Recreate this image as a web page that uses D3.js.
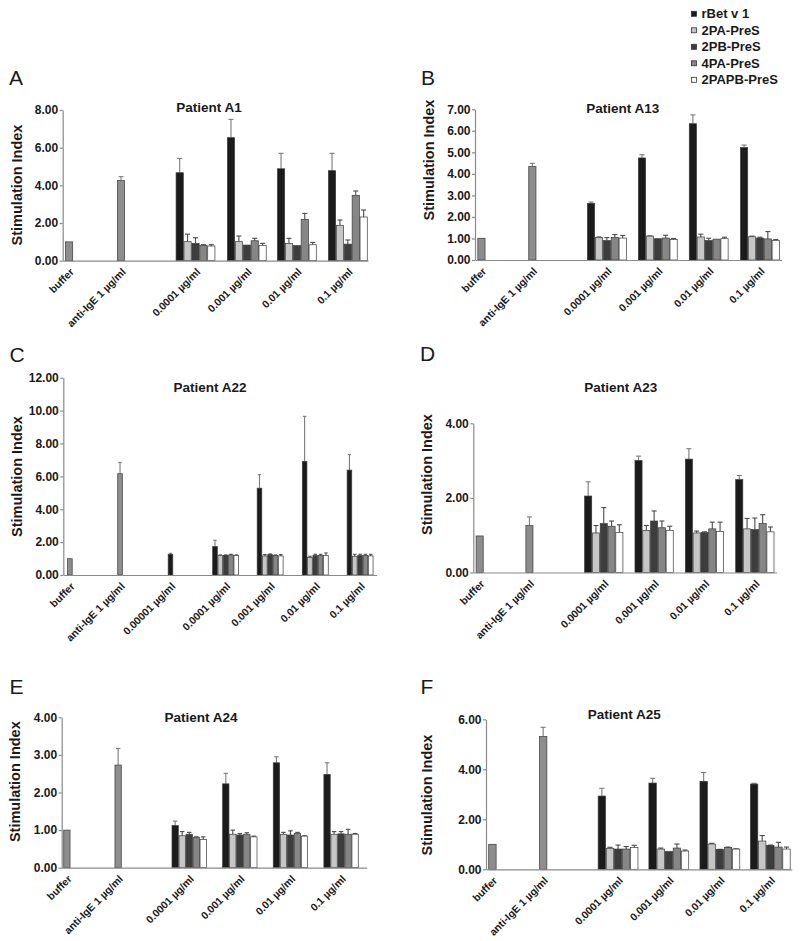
<!DOCTYPE html>
<html><head><meta charset="utf-8">
<script src="https://cdn.jsdelivr.net/npm/d3@7"></script>
<style>
body{margin:0;background:#fff}
svg{display:block}
text{font-family:"Liberation Sans",Arial,Helvetica,sans-serif}
</style>
</head><body>
<svg id="chart" width="800" height="941"></svg>
<script>
// ---------------- DATA ----------------
const series = ["rBet v 1", "2PA-PreS", "2PB-PreS", "4PA-PreS", "2PAPB-PreS"];
const controls = ["buffer", "anti-IgE 1 µg/ml"];
const concentrations = ["0.0001 µg/ml", "0.001 µg/ml", "0.01 µg/ml", "0.1 µg/ml"];
const concentrationsC = ["0.00001 µg/ml", "0.0001 µg/ml", "0.001 µg/ml", "0.01 µg/ml", "0.1 µg/ml"];

// Patient A1
const a1Controls = [1.00, 4.25];
const a1ControlsErr = [0, 0.21];
const a1Values = [
  [4.67, 1.01, 0.92, 0.81, 0.78],
  [6.53, 1.01, 0.83, 1.06, 0.81],
  [4.88, 0.92, 0.80, 2.19, 0.85],
  [4.78, 1.88, 0.88, 3.47, 2.32]
];
const a1Err = [
  [0.76, 0.40, 0.30, 0.04, 0.07],
  [0.97, 0.30, 0, 0.13, 0.11],
  [0.82, 0.27, 0, 0.32, 0.12],
  [0.92, 0.28, 0.22, 0.23, 0.37]
];

// Patient A13
const a13Controls = [1.01, 4.34];
const a13ControlsErr = [0, 0.15];
const a13Values = [
  [2.63, 1.05, 0.90, 1.05, 1.02],
  [4.74, 1.11, 0.99, 1.02, 0.95],
  [6.33, 1.07, 0.90, 0.97, 0.99],
  [5.22, 1.08, 1.02, 0.98, 0.91]
];
const a13Err = [
  [0.06, 0.02, 0.14, 0.13, 0.12],
  [0.15, 0.01, 0, 0.13, 0.05],
  [0.41, 0.13, 0.11, 0, 0.07],
  [0.12, 0.03, 0.04, 0.34, 0.04]
];

// Patient A22
const a22Controls = [0.99, 6.16];
const a22ControlsErr = [0, 0.69];
const a22Values = [
  [1.26, null, null, null, null],
  [1.73, 1.18, 1.20, 1.22, 1.18],
  [5.28, 1.16, 1.24, 1.18, 1.16],
  [6.91, 1.06, 1.18, 1.18, 1.18],
  [6.38, 1.14, 1.18, 1.18, 1.16]
];
const a22Err = [
  [0.06, null, null, null, null],
  [0.38, 0.04, 0.02, 0.04, 0.04],
  [0.82, 0.08, 0.04, 0.04, 0.08],
  [2.74, 0.08, 0.08, 0.08, 0.16],
  [0.94, 0.12, 0.08, 0.08, 0.10]
];

// Patient A23
const a23Controls = [0.98, 1.26];
const a23ControlsErr = [0, 0.23];
const a23Values = [
  [2.05, 1.06, 1.31, 1.24, 1.07],
  [3.00, 1.13, 1.38, 1.20, 1.13],
  [3.04, 1.06, 1.07, 1.17, 1.10],
  [2.49, 1.17, 1.15, 1.31, 1.09]
];
const a23Err = [
  [0.38, 0.20, 0.43, 0.14, 0.21],
  [0.12, 0.13, 0.27, 0.18, 0.11],
  [0.28, 0.05, 0.02, 0.18, 0.25],
  [0.11, 0.28, 0.31, 0.24, 0.13]
];

// Patient A24
const a24Controls = [1.00, 2.73];
const a24ControlsErr = [0, 0.44];
const a24Values = [
  [1.12, 0.85, 0.89, 0.81, 0.75],
  [2.23, 0.89, 0.87, 0.89, 0.82],
  [2.79, 0.89, 0.87, 0.91, 0.84],
  [2.48, 0.89, 0.90, 0.89, 0.89]
];
const a24Err = [
  [0.12, 0.11, 0.05, 0.01, 0.07],
  [0.28, 0.11, 0.04, 0.04, 0.02],
  [0.16, 0.05, 0.11, 0.03, 0.01],
  [0.31, 0.07, 0.06, 0.13, 0.02]
];

// Patient A25
const a25Controls = [1.00, 5.31];
const a25ControlsErr = [0, 0.37];
const a25Values = [
  [2.93, 0.84, 0.81, 0.81, 0.87],
  [3.45, 0.81, 0.71, 0.85, 0.73],
  [3.52, 1.01, 0.79, 0.87, 0.81],
  [3.41, 1.13, 0.95, 0.89, 0.81]
];
const a25Err = [
  [0.31, 0.04, 0.16, 0.10, 0.09],
  [0.19, 0.04, 0, 0.16, 0.04],
  [0.35, 0.03, 0.01, 0.02, 0.01],
  [0.03, 0.22, 0.02, 0.19, 0.08]
];

const ticksA = [0, 2, 4, 6, 8];
const ticksB = [0, 1, 2, 3, 4, 5, 6, 7];
const ticksC = [0, 2, 4, 6, 8, 10, 12];
const ticksD = [0, 2, 4];
const ticksE = [0, 1, 2, 3, 4];
const ticksF = [0, 2, 4, 6];

// ---------------- STYLE / LAYOUT ----------------
const seriesColors = ["#1b1b1b", "#c6c6c6", "#3d3d3d", "#868686", "#ffffff"];
const controlColor = "#8d8d8d";
const axisColor = "#8a8a8a";

const stdCenters = [0.021, 0.187, 0.432, 0.598, 0.764, 0.930];

const panels = [
  {letter: "A", title: "Patient A1", cats: concentrations, ctrl: a1Controls, ctrlErr: a1ControlsErr, vals: a1Values, errs: a1Err, ticks: ticksA,
   f: {x0: 62.7, x1: 368, y0: 260.7, y1: 110}, centers: [0.021, 0.191, 0.435, 0.603, 0.767, 0.934], bw: 0.0259,
   titleXY: [209, 111.7], letterXY: [9, 85], yTitleXY: [17, 185]},
  {letter: "B", title: "Patient A13", cats: concentrations, ctrl: a13Controls, ctrlErr: a13ControlsErr, vals: a13Values, errs: a13Err, ticks: ticksB,
   f: {x0: 475, x1: 781.7, y0: 260, y1: 109.3}, centers: [0.021, 0.187, 0.430, 0.596, 0.762, 0.929], bw: 0.0258,
   titleXY: [622.7, 113.3], letterXY: [421, 85], yTitleXY: [429, 160]},
  {letter: "C", title: "Patient A22", cats: concentrationsC, ctrl: a22Controls, ctrlErr: a22ControlsErr, vals: a22Values, errs: a22Err, ticks: ticksC,
   f: {x0: 63.3, x1: 376.7, y0: 575, y1: 377.7}, centers: [0.021, 0.181, 0.342, 0.518, 0.660, 0.804, 0.947], bw: 0.017,
   titleXY: [210, 391.7], letterXY: [9.5, 361.7], yTitleXY: [16.7, 476.5]},
  {letter: "D", title: "Patient A23", cats: concentrations, ctrl: a23Controls, ctrlErr: a23ControlsErr, vals: a23Values, errs: a23Err, ticks: ticksD,
   f: {x0: 473.3, x1: 776.7, y0: 572.5, y1: 423.3}, centers: [0.021, 0.185, 0.430, 0.596, 0.762, 0.928], bw: 0.0257,
   titleXY: [620.7, 392], letterXY: [420, 360.7], yTitleXY: [427, 474.5]},
  {letter: "E", title: "Patient A24", cats: concentrations, ctrl: a24Controls, ctrlErr: a24ControlsErr, vals: a24Values, errs: a24Err, ticks: ticksE,
   f: {x0: 61.7, x1: 366.7, y0: 867.7, y1: 717.3}, centers: [0.017, 0.185, 0.418, 0.584, 0.750, 0.916], bw: 0.023,
   titleXY: [201, 721.7], letterXY: [9.5, 694.3], yTitleXY: [15, 781.7]},
  {letter: "F", title: "Patient A25", cats: concentrations, ctrl: a25Controls, ctrlErr: a25ControlsErr, vals: a25Values, errs: a25Err, ticks: ticksF,
   f: {x0: 486, x1: 791.7, y0: 869.3, y1: 719.3}, centers: [0.021, 0.187, 0.432, 0.598, 0.765, 0.930], bw: 0.0265,
   titleXY: [624.3, 719.3], letterXY: [420.5, 694.3], yTitleXY: [427, 795]}
];

const svg = d3.select("#chart");
const fmt = d3.format(".2f");

panels.forEach(p => {
  const g = svg.append("g");
  const x = d3.scaleLinear().domain([0, 1]).range([p.f.x0, p.f.x1]);
  const y = d3.scaleLinear().domain([0, d3.max(p.ticks)]).range([p.f.y0, p.f.y1]);
  const bwPx = x(p.bw) - x(0);
  const labels = controls.concat(p.cats);

  // build bar records
  const bars = [];
  p.ctrl.forEach((v, i) => {
    const cx = x(p.centers[i]);
    bars.push({x: cx - bwPx / 2, w: bwPx, v: v, e: p.ctrlErr[i], fill: controlColor, dark: false});
  });
  p.vals.forEach((row, j) => {
    const cx = x(p.centers[j + controls.length]);
    const present = row.map((v, k) => v == null ? null : k).filter(k => k != null);
    if (present.length === 1) {
      const k = present[0];
      bars.push({x: cx - bwPx / 2, w: bwPx, v: row[k], e: p.errs[j][k], fill: seriesColors[k], dark: k === 0});
    } else {
      const band = d3.scaleBand().domain(series).range([cx - 2.5 * bwPx, cx + 2.5 * bwPx]);
      row.forEach((v, k) => {
        if (v == null) return;
        bars.push({x: band(series[k]), w: band.bandwidth(), v: v, e: p.errs[j][k], fill: seriesColors[k], dark: k === 0});
      });
    }
  });

  // error bars (behind caps drawn after bars)
  const eb = g.append("g");
  bars.filter(b => b.e && b.e > 0).forEach(b => {
    const cx = b.x + b.w / 2;
    const col = b.dark || b.fill === controlColor ? "#7a7a7a" : "#4a4a4a";
    eb.append("line").attr("x1", cx).attr("x2", cx).attr("y1", y(b.v)).attr("y2", y(b.v + b.e))
      .attr("stroke", col).attr("stroke-width", 1.1);
    eb.append("line").attr("x1", cx - b.w * 0.32).attr("x2", cx + b.w * 0.32)
      .attr("y1", y(b.v + b.e)).attr("y2", y(b.v + b.e))
      .attr("stroke", col).attr("stroke-width", 1.1);
  });

  g.append("g").selectAll("rect").data(bars).join("rect")
    .attr("x", d => d.x + 0.35).attr("width", d => d.w - 0.7)
    .attr("y", d => y(d.v)).attr("height", d => y(0) - y(d.v))
    .attr("fill", d => d.fill).attr("stroke", "#3a3a3a").attr("stroke-width", 0.7);

  // y axis
  const ya = g.append("g").attr("transform", `translate(${p.f.x0},0)`)
    .call(d3.axisLeft(y).tickValues(p.ticks).tickFormat(fmt).tickSize(3).tickSizeOuter(0).tickPadding(1.5));
  ya.select(".domain").attr("stroke", axisColor).attr("stroke-width", 1.2);
  ya.selectAll(".tick line").attr("stroke", axisColor).attr("stroke-width", 1.2);
  ya.selectAll(".tick text").attr("fill", "#1a1a1a").style("font-size", "12px").style("font-weight", "bold")
    .style("font-family", "'Liberation Sans', Arial, sans-serif");

  // x axis
  const xa = g.append("g").attr("transform", `translate(0,${p.f.y0})`)
    .call(d3.axisBottom(x).tickValues(p.centers).tickFormat((d, i) => labels[i]).tickSize(0).tickSizeOuter(0));
  xa.select(".domain").attr("stroke", axisColor).attr("stroke-width", 1.2);
  xa.selectAll(".tick text")
    .attr("y", 0).attr("dy", 0).attr("x", 0)
    .attr("text-anchor", "end")
    .attr("transform", "translate(5,12) rotate(-45)")
    .attr("fill", "#1a1a1a").style("font-size", "10.5px").style("font-weight", "bold")
    .style("font-family", "'Liberation Sans', Arial, sans-serif");

  // title
  g.append("text").attr("x", p.titleXY[0]).attr("y", p.titleXY[1]).attr("text-anchor", "middle")
    .style("font-size", "13.5px").style("font-weight", "bold").attr("fill", "#1a1a1a").text(p.title);
  // panel letter
  g.append("text").attr("x", p.letterXY[0]).attr("y", p.letterXY[1])
    .style("font-size", "21px").attr("fill", "#1a1a1a").text(p.letter);
  // y title
  g.append("text").attr("transform", `translate(${p.yTitleXY[0]},${p.yTitleXY[1]}) rotate(-90)`)
    .attr("text-anchor", "middle").attr("dominant-baseline", "central")
    .style("font-size", "14.5px").style("font-weight", "bold").attr("fill", "#1a1a1a").text("Stimulation Index");
});

// legend
const legendYs = d3.scalePoint().domain(series).range([13.8, 79.8]);
const lg = svg.append("g");
series.forEach((s, i) => {
  lg.append("rect").attr("x", 691.5).attr("y", legendYs(s) - 2.5).attr("width", 5).attr("height", 5)
    .attr("fill", seriesColors[i]).attr("stroke", "#333").attr("stroke-width", 0.8);
  lg.append("text").attr("x", 701.5).attr("y", legendYs(s)).attr("dominant-baseline", "central")
    .style("font-size", "13px").style("font-weight", "bold").attr("fill", "#1a1a1a").text(s);
});
</script>
</body></html>
